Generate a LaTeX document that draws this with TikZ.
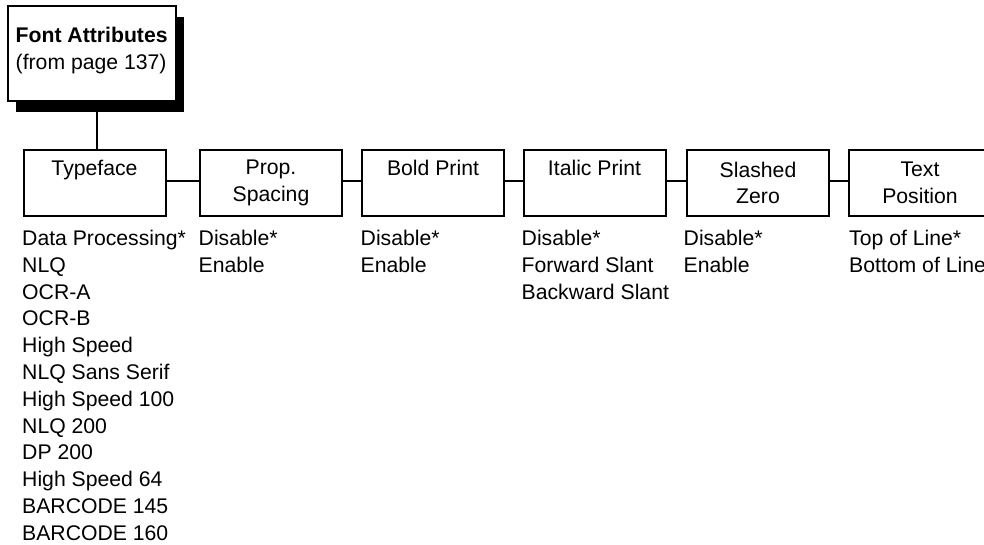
\documentclass[tikz,border=0pt]{standalone}
\usepackage{fontspec}
\setmainfont{Liberation Sans}
\usetikzlibrary{shadows}
\newcommand{\padline}{\rule[-4.5pt]{0pt}{4.5pt}}
\begin{document}
\begin{tikzpicture}[x=1pt,y=-1pt,
  every node/.style={font=\fontsize{21.2}{26.8}\selectfont},
  menubox/.style={draw, line width=2pt, fill=white, minimum width=142pt, minimum height=66pt, inner sep=0pt, align=center},
  optlist/.style={anchor=north west, inner sep=0pt, align=left},
  conn/.style={line width=2pt}]
\useasboundingbox (0,0) rectangle (984,544);
% top box
\node[draw, line width=2pt, fill=white, minimum width=168pt, minimum height=95pt, inner sep=0pt,
  drop shadow={shadow xshift=8pt, shadow yshift=-11pt, fill=black, opacity=1}] (fa) at (92,53.5) {};
\node[anchor=west, align=left, inner sep=0pt] (fatext) at (15.5,50.5) {\textbf{Font Attributes}\\(from page 137)};
% menu boxes
\node[menubox] (tf) at (94.5,183) {Typeface\\\padline};
\node[menubox] (ps) at (271,183) {Prop.\\Spacing};
\node[menubox] (bp) at (433,183) {Bold Print\\\padline};
\node[menubox] (ip) at (594.5,183) {Italic Print\\\padline};
\node[menubox] (sz) at (758,183) {Slashed\\Zero};
\node[menubox] (tp) at (920,183) {Text\\Position};
% connectors
\draw[conn] ([xshift=2.5pt]tf.north) -- ([xshift=2.5pt]tf.north |- fa.south);
\draw[conn] ([yshift=2pt]tf.east) -- ([yshift=2pt]ps.west);
\draw[conn] ([yshift=2pt]ps.east) -- ([yshift=2pt]bp.west);
\draw[conn] ([yshift=2pt]bp.east) -- ([yshift=2pt]ip.west);
\draw[conn] ([yshift=2pt]ip.east) -- ([yshift=2pt]sz.west);
\draw[conn] ([yshift=2pt]sz.east) -- ([yshift=2pt]tp.west);
% option lists
\node[optlist] (tfl) at (22,230) {Data Processing*\\NLQ\\OCR-A\\OCR-B\\High Speed\\NLQ Sans Serif\\High Speed 100\\NLQ 200\\DP 200\\High Speed 64\\BARCODE 145\\BARCODE 160};
\node[optlist] (psl) at (198.5,230) {Disable*\\Enable};
\node[optlist] (bpl) at (360.5,230) {Disable*\\Enable};
\node[optlist] (ipl) at (521.5,230) {Disable*\\Forward Slant\\Backward Slant};
\node[optlist] (szl) at (683.5,230) {Disable*\\Enable};
\node[optlist] (tpl) at (849,230) {Top of Line*\\Bottom of Line};
\end{tikzpicture}
\end{document}
